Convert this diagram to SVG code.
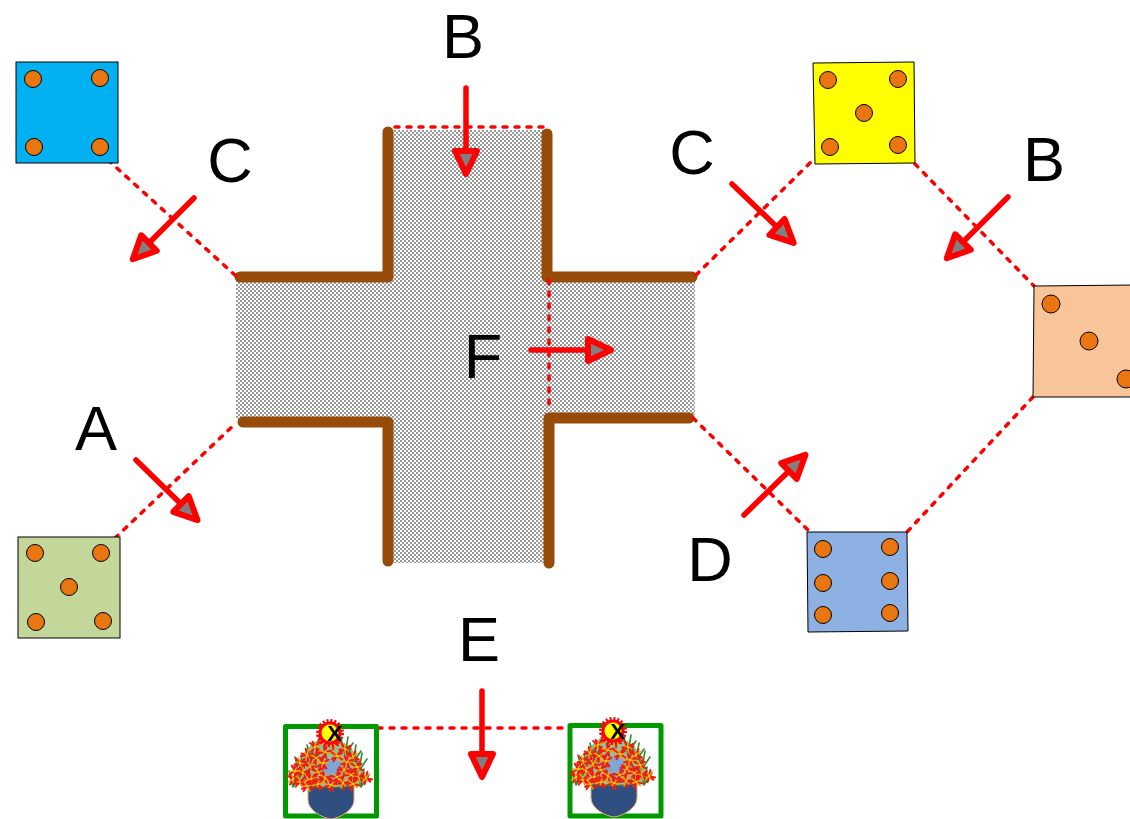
<svg xmlns="http://www.w3.org/2000/svg" xmlns:xlink="http://www.w3.org/1999/xlink" width="1130" height="819" viewBox="0 0 1130 819">
<style>
.node{stroke:#000;stroke-width:1}
.dot{fill:#e97610;stroke:#000;stroke-width:1}
.dash{fill:none;stroke:#f00;stroke-width:3.500;stroke-dasharray:4 8;stroke-linecap:round}
.arrow{fill:none;stroke:#f00;stroke-width:5.500;stroke-linecap:round;marker-end:url(#head)}
.wall{fill:none;stroke:#974b09;stroke-width:11;stroke-linecap:round;stroke-linejoin:round}
.lbl{font-family:"Liberation Sans",Arial,sans-serif;font-size:63px;fill:#000;text-anchor:middle}
.frame{fill:#fff;stroke:#009900;stroke-width:5;stroke-linejoin:round}
</style>
<defs>
<pattern id="chk" width="4" height="4" patternUnits="userSpaceOnUse">
<rect width="4" height="4" fill="#fff"/><rect width="2" height="2" fill="#999"/><rect x="2" y="2" width="2" height="2" fill="#999"/>
</pattern>
<marker id="head" markerUnits="userSpaceOnUse" viewBox="-5 -16 34 32" markerWidth="34" markerHeight="32" refX="0" refY="0" orient="auto">
<path d="M0,-11 L23,0 L0,11 Z" fill="#808080" stroke="#f00" stroke-width="6" stroke-linejoin="round"/>
</marker>
<g id="fl" stroke-linecap="round">
<path d="M-6,-2 L6,2 M-2,6 L2,-6 M-4,4 L4,-4" stroke="#f01c10" stroke-width="2"/>
<path d="M-4,-4 L4,4 M-3,1 L3,-1" stroke="#f59a10" stroke-width="1.400"/>
<circle r="1.200" fill="#ffd000"/>
</g>
<g id="gr" fill="none" stroke="#2e8b2e" stroke-width="1.600" stroke-linecap="round">
<path d="M0,0 L-4,-16 M0,0 L3,-18 M0,0 L8,-12"/>
</g>
<g id="plant">
<use href="#gr" x="8" y="62"/><use href="#gr" x="14" y="48"/><use href="#gr" x="26" y="36"/><use href="#gr" x="60" y="30"/><use href="#gr" x="68" y="38"/><use href="#gr" x="74" y="46"/><use href="#gr" x="76" y="62"/>
<path d="M23,60 Q46,64 69,60 V75 C69,85 55,93 46,94 C37,93 23,85 23,75 Z" fill="#2f4f80" stroke="#e8a868" stroke-width="1"/>
<path d="M34,14 Q62,12 74,34 L82,58 Q46,68 8,58 L16,36 Q22,20 34,14 Z" fill="#3f8a3a" opacity=".55"/>
<ellipse cx="47" cy="44" rx="11" ry="10" fill="#7ea6d8"/>
<use href="#fl" transform="translate(38,15) rotate(20)"/><use href="#fl" transform="translate(48,18) rotate(70)"/>
<use href="#fl" transform="translate(30,22) rotate(110)"/><use href="#fl" transform="translate(60,24) rotate(40)"/>
<use href="#fl" transform="translate(40,27) rotate(-30)"/><use href="#fl" transform="translate(52,31) rotate(15)"/>
<use href="#fl" transform="translate(22,30) rotate(60)"/><use href="#fl" transform="translate(31,33) rotate(-15)"/><use href="#fl" transform="translate(68,32) rotate(95)"/><use href="#fl" transform="translate(62,37) rotate(-40)"/>
<use href="#fl" transform="translate(15,38) rotate(30)"/><use href="#fl" transform="translate(25,41) rotate(80)"/><use href="#fl" transform="translate(38,38) rotate(130)"/><use href="#fl" transform="translate(72,42) rotate(10)"/>
<use href="#fl" transform="translate(10,46) rotate(-50)"/><use href="#fl" transform="translate(18,48) rotate(45)"/><use href="#fl" transform="translate(33,47) rotate(5)"/><use href="#fl" transform="translate(59,45) rotate(75)"/><use href="#fl" transform="translate(66,50) rotate(-20)"/>
<use href="#fl" transform="translate(8,54) rotate(100)"/><use href="#fl" transform="translate(15,57) rotate(25)"/><use href="#fl" transform="translate(26,54) rotate(-60)"/><use href="#fl" transform="translate(40,53) rotate(55)"/><use href="#fl" transform="translate(52,52) rotate(-10)"/><use href="#fl" transform="translate(74,52) rotate(35)"/><use href="#fl" transform="translate(81,53) rotate(85)"/>
<use href="#fl" transform="translate(22,61) rotate(15)"/><use href="#fl" transform="translate(33,59) rotate(120)"/><use href="#fl" transform="translate(46,60) rotate(-35)"/><use href="#fl" transform="translate(58,58) rotate(65)"/><use href="#fl" transform="translate(68,59) rotate(-5)"/>
<circle cx="45" cy="8" r="11.500" fill="#f00"/>
<circle cx="45" cy="8" r="12.500" fill="none" stroke="#f00" stroke-width="3" stroke-dasharray="2 1.930"/>
<circle cx="45" cy="8" r="8.500" fill="#ffff00"/>
<text x="49.500" y="16" font-family="Liberation Sans, sans-serif" font-weight="bold" font-size="22" text-anchor="middle" fill="#000">X</text>
</g>
</defs>

<g id="cross">
<path d="M392,130 H546 V280 H695 V415 H548 V563 H392 V420 H236 V280 H392 Z" fill="url(#chk)"/>
<path class="wall" d="M388,132 V277 H240"/>
<path class="wall" d="M547,134 V277 H692"/>
<path class="wall" d="M243,422 H388 V561"/>
<path class="wall" d="M549,563 V418 H689"/>
</g>

<g id="connectors">
<path class="dash" d="M108,160 L236,276"/>
<path class="dash" d="M115,538 L236,423"/>
<path class="dash" d="M696,275 L813,160"/>
<path class="dash" d="M915,164 L1034,286"/>
<path class="dash" d="M1033,397 L907,532"/>
<path class="dash" d="M693,418 L808,530"/>
<path class="dash" d="M395,127 H546"/>
<path class="dash" d="M549,280 V412"/>
<path class="dash" d="M378,728 H570"/>
<path class="arrow" d="M194,198 L149,243"/>
<path class="arrow" d="M732,184 L777,227"/>
<path class="arrow" d="M1008,197 L963,242"/>
<path class="arrow" d="M136,460 L181,504"/>
<path class="arrow" d="M744,515 L789,471"/>
<path class="arrow" d="M531,350 H588"/>
<path class="arrow" d="M482,691 V754"/>
<path class="arrow" d="M466,88 V151"/>
</g>

<g id="node-blue">
<rect class="node" x="16" y="62" width="102" height="101" fill="#00b0f0"/>
<circle class="dot" cx="33" cy="79" r="8.500"/><circle class="dot" cx="100" cy="78" r="8.500"/><circle class="dot" cx="34" cy="147" r="8.500"/><circle class="dot" cx="100" cy="147" r="8.500"/>
</g>
<g id="node-yellow">
<path class="node" d="M813,63 L914,62 L915,163 L815,164 Z" fill="#ffff00"/>
<circle class="dot" cx="828" cy="80" r="8.500"/><circle class="dot" cx="898" cy="79" r="8.500"/><circle class="dot" cx="864" cy="113" r="8.500"/><circle class="dot" cx="830" cy="147" r="8.500"/><circle class="dot" cx="898" cy="145" r="8.500"/>
</g>
<g id="node-peach">
<path class="node" d="M1034,286 L1136,285 L1136,397 L1033,397 Z" fill="#f8c49a"/>
<circle class="dot" cx="1051" cy="304" r="9"/><circle class="dot" cx="1089" cy="341" r="9"/><circle class="dot" cx="1126" cy="379" r="9"/>
</g>
<g id="node-green">
<rect class="node" x="18" y="537" width="102" height="101" fill="#c4d79b"/>
<circle class="dot" cx="35" cy="553" r="8.500"/><circle class="dot" cx="101" cy="553" r="8.500"/><circle class="dot" cx="69" cy="587" r="8.500"/><circle class="dot" cx="36" cy="622" r="8.500"/><circle class="dot" cx="103" cy="621" r="8.500"/>
</g>
<g id="node-lightblue">
<path class="node" d="M807,532 L907,532 L908,631 L808,632 Z" fill="#8eb1e3"/>
<circle class="dot" cx="823" cy="549" r="8.500"/><circle class="dot" cx="890" cy="547" r="8.500"/><circle class="dot" cx="823" cy="583" r="8.500"/><circle class="dot" cx="890" cy="581" r="8.500"/><circle class="dot" cx="823" cy="615" r="8.500"/><circle class="dot" cx="890" cy="613" r="8.500"/>
</g>
<g id="node-plant-left">
<rect class="frame" x="285.500" y="726.500" width="91" height="89.500"/>
<use href="#plant" x="285" y="725"/>
</g>
<g id="node-plant-right">
<rect class="frame" x="570" y="725.500" width="91" height="90.500"/>
<use href="#plant" x="568" y="723"/>
</g>

<g id="labels">
<text class="lbl" x="463" y="58">B</text>
<text class="lbl" x="230" y="182">C</text>
<text class="lbl" x="692" y="174">C</text>
<text class="lbl" x="1044" y="181">B</text>
<text class="lbl" x="96" y="450">A</text>
<text class="lbl" x="483" y="378">F</text>
<text class="lbl" x="710" y="581">D</text>
<text class="lbl" x="479" y="661">E</text>
</g>
</svg>
